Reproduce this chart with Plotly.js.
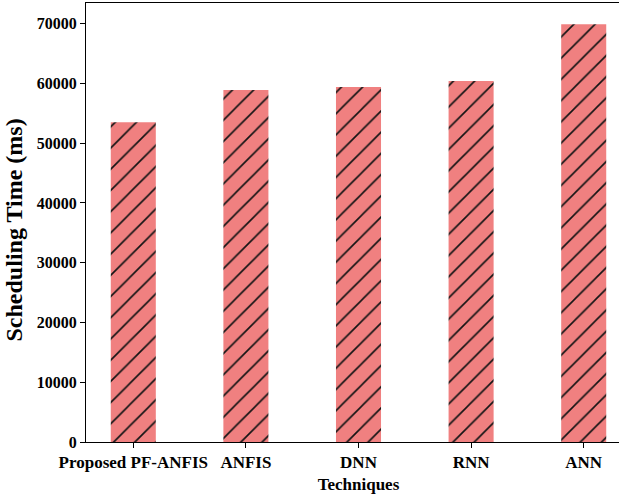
<!DOCTYPE html>
<html>
<head>
<meta charset="utf-8">
<script src="https://cdn.plot.ly/plotly-3.0.1.min.js"></script>
<style>
  html, body { margin: 0; padding: 0; overflow: hidden; background: #fff; }
  #chart { width: 645px; height: 499px; }
</style>
</head>
<body>
<div id="chart"></div>
<script>
// Scheduling time per technique
const techniques = ['Proposed PF-ANFIS', 'ANFIS', 'DNN', 'RNN', 'ANN'];
const schedulingTime = [53500, 58900, 59400, 60400, 69900];
const yTickValues = [0, 10000, 20000, 30000, 40000, 50000, 60000, 70000];

const serif = 'Liberation Serif, Times New Roman, serif';

const trace = {
  type: 'bar',
  x: techniques.map((_, i) => i),
  y: schedulingTime,
  width: 0.4,
  marker: {
    color: '#f08080',
    line: { width: 0 },
    pattern: {
      shape: '/',
      size: 15,
      solidity: 0.11,
      fgcolor: '#141414',
      bgcolor: '#f08080'
    }
  },
  hoverinfo: 'x+y'
};

const layout = {
  width: 645,
  height: 499,
  margin: { l: 86, r: 14, t: 3, b: 57 },
  paper_bgcolor: '#fff',
  plot_bgcolor: '#fff',
  showlegend: false,
  font: { family: serif, color: '#000' },
  xaxis: {
    range: [-0.42, 4.42],
    tickvals: techniques.map((_, i) => i),
    ticktext: techniques,
    ticks: 'outside',
    ticklen: 5,
    tickwidth: 1,
    tickcolor: '#000',
    showline: true,
    linecolor: '#000',
    linewidth: 1,
    mirror: true,
    showgrid: false,
    zeroline: false,
    tickfont: { family: serif, size: 17, weight: 'bold', color: '#000' },
    title: { text: 'Techniques', font: { family: serif, size: 17, weight: 'bold', color: '#000' }, standoff: 6 }
  },
  yaxis: {
    range: [0, 73450],
    tickvals: yTickValues,
    ticktext: yTickValues.map(String),
    ticks: 'outside',
    ticklen: 5,
    tickwidth: 1,
    tickcolor: '#000',
    showline: true,
    linecolor: '#000',
    linewidth: 1,
    mirror: true,
    showgrid: false,
    zeroline: false,
    tickfont: { family: serif, size: 16, weight: 'bold', color: '#000' }
  },
  // vertical y-axis title, placed a little below the plot's middle
  annotations: [{
    text: 'Scheduling Time (ms)',
    textangle: -90,
    xref: 'paper', yref: 'paper',
    x: -0.133, y: 0.483,
    xanchor: 'center', yanchor: 'middle',
    showarrow: false,
    font: { family: serif, size: 24, weight: 'bold', color: '#000' }
  }]
};

Plotly.newPlot('chart', [trace], layout, { displayModeBar: false, staticPlot: true });
</script>
</body>
</html>
